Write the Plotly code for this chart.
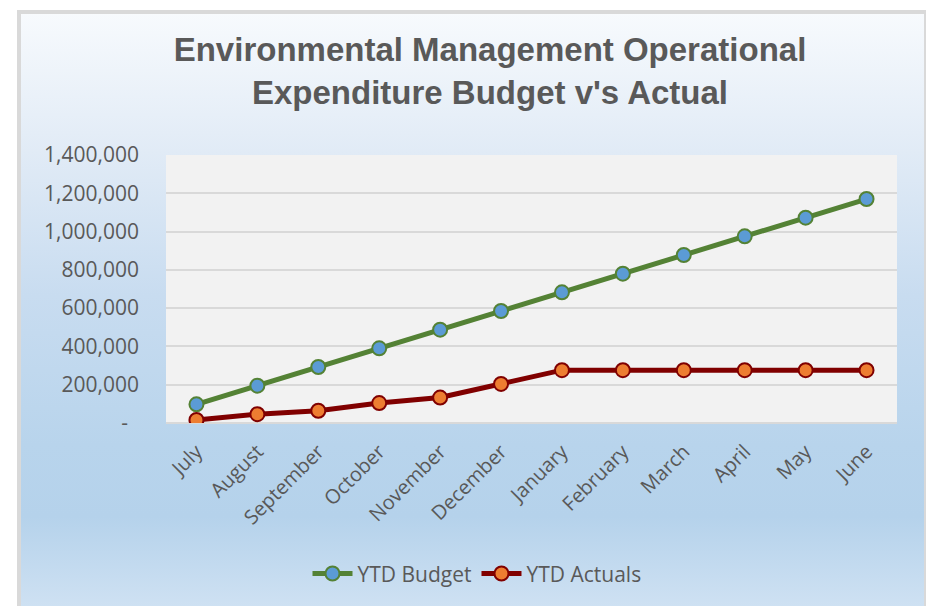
import base64
import plotly.graph_objects as go

# Monthly categories and year-to-date figures
months = ["July", "August", "September", "October", "November", "December",
          "January", "February", "March", "April", "May", "June"]
ytd_budget = [97500, 195000, 292500, 390000, 487500, 585000,
              682500, 780000, 877500, 975000, 1072500, 1170000]
ytd_actuals = [15500, 46000, 64000, 104000, 133000, 204000,
               276000, 276000, 276000, 276000, 276000, 276000]
y_tick_vals = [0, 200000, 400000, 600000, 800000, 1000000, 1200000, 1400000]
y_tick_text = ["-\u00a0\u00a0", "200,000", "400,000", "600,000", "800,000",
               "1,000,000", "1,200,000", "1,400,000"]

W, H = 926, 606
L, R, T, B = 166, 897, 155, 425
PW, PH = R - L, B - T


def px_x(v):
    return (v - L) / PW


def px_y(v):
    return (B - v) / PH


TEXT = "#595959"
FONT = "Open Sans"
FRAME = "#d9d9d9"

# vertical gradient backdrop for the chart area (runs past the bottom edge)
BG_TOP, BG_BOTTOM = 13, 616
svg = (
    '<svg xmlns="http://www.w3.org/2000/svg" width="100" height="100" preserveAspectRatio="none">'
    '<defs><linearGradient id="g" x1="0" y1="0" x2="0" y2="1">'
    '<stop offset="0" stop-color="#f7fafd"/>'
    '<stop offset="0.23" stop-color="#e1ebf6"/>'
    '<stop offset="0.47" stop-color="#c8dcf0"/>'
    '<stop offset="0.72" stop-color="#b8d4ec"/>'
    '<stop offset="0.84" stop-color="#b5d2eb"/>'
    '<stop offset="1" stop-color="#d0e2f3"/>'
    '</linearGradient></defs>'
    '<rect width="100" height="100" fill="url(#g)"/></svg>'
)
bg_src = "data:image/svg+xml;base64," + base64.b64encode(svg.encode()).decode()

fig = go.Figure()

fig.add_trace(go.Scatter(
    x=months, y=ytd_budget, name="YTD Budget", mode="lines+markers",
    line=dict(color="#548235", width=5),
    marker=dict(size=14, color="#5b9bd5", line=dict(color="#548235", width=2)),
))
fig.add_trace(go.Scatter(
    x=months, y=ytd_actuals, name="YTD Actuals", mode="lines+markers",
    line=dict(color="#800000", width=5),
    marker=dict(size=14, color="#ed7d31", line=dict(color="#800000", width=2)),
))


def frame_edge(x0, y0, x1, y1):
    return dict(type="line", xref="paper", yref="paper",
                x0=px_x(x0), y0=px_y(y0), x1=px_x(x1), y1=px_y(y1),
                line=dict(color=FRAME, width=4), layer="below")


fig.update_layout(
    width=W, height=H,
    margin=dict(l=L, r=W - R, t=T, b=H - B, pad=0),
    paper_bgcolor="white",
    plot_bgcolor="#f2f2f2",
    font=dict(family=FONT, color=TEXT, size=21),
    title=dict(
        text="Environmental Management Operational<br>Expenditure Budget v's Actual",
        font=dict(family="Liberation Sans, Arial, sans-serif",
                  size=33, color=TEXT, weight="bold"),
        xref="container", yref="container",
        x=490 / W, xanchor="center",
        y=1 - 61 / H, yanchor="middle",
    ),
    showlegend=True,
    legend=dict(
        orientation="h", xref="paper", yref="paper",
        x=px_x(477), xanchor="center", y=px_y(577), yanchor="middle",
        font=dict(family=FONT, size=21, color=TEXT),
        bgcolor="rgba(0,0,0,0)", itemwidth=40, tracegroupgap=0,
    ),
    images=[dict(
        source=bg_src, xref="paper", yref="paper",
        x=px_x(21), y=px_y(BG_TOP), sizex=(924 - 21) / PW,
        sizey=(BG_BOTTOM - BG_TOP) / PH,
        xanchor="left", yanchor="top", sizing="stretch", layer="below",
    )],
    shapes=[
        dict(type="rect", xref="paper", yref="paper",
             x0=0, x1=1, y0=0, y1=1, fillcolor="#f2f2f2",
             line=dict(width=0), layer="below"),
        frame_edge(19, 9, 19, 620),
        frame_edge(17, 11, 930, 11),
        frame_edge(926, 9, 926, 620),
    ],
)

fig.update_xaxes(
    type="category", range=[-0.5, len(months) - 0.5],
    tickangle=-45, showgrid=False, zeroline=False,
    showline=False, ticks="", ticklabelstandoff=12,
    tickfont=dict(family=FONT, size=20, color=TEXT),
)
fig.update_yaxes(
    range=[0, 1400000], tickvals=y_tick_vals, ticktext=y_tick_text,
    showgrid=True, gridcolor="#d9d9d9", gridwidth=2,
    zeroline=True, zerolinecolor="#d9d9d9", zerolinewidth=2,
    showline=False, ticks="", ticklabelstandoff=26,
    tickfont=dict(family=FONT, size=21, color=TEXT),
)

fig.write_html("out.html")
